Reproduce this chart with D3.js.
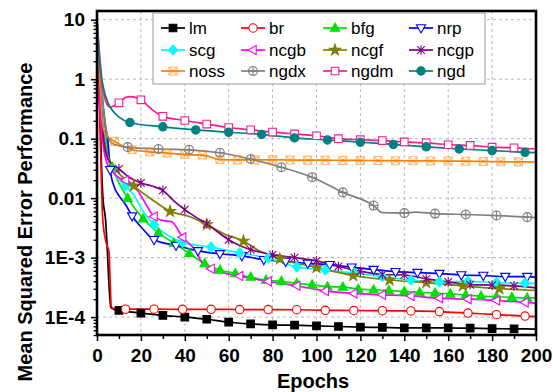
<!DOCTYPE html>
<html>
<head>
<meta charset="utf-8">
<script src="https://cdnjs.cloudflare.com/ajax/libs/d3/7.8.5/d3.min.js"></script>
<style>
body { margin: 0; background: #fff; }
text { font-family: "Liberation Sans", Arial, sans-serif; }
</style>
</head>
<body>
<div id="chart"></div>
<script>
// series names, in legend order
var names = ["lm", "br", "bfg", "nrp", "scg", "ncgb", "ncgf", "ncgp", "noss", "ngdx", "ngdm", "ngd"];

// [epoch, mse]
var lm = [[0,10],[1,1],[2,0.04],[2.7,0.01],[3.9,0.0043],[4.7,0.00135],[5.5,0.00033],[6.3,0.000145],[8,0.000135],
  [10,0.00013],[20,0.000117],[30,0.000107],[40,0.0001],[50,0.000092],[60,0.000082],[70,0.000077],[80,0.000074],
  [90,0.000073],[100,0.000071],[110,0.0000695],[120,0.000068],[130,0.000067],[140,0.000066],[150,0.000066],
  [160,0.000066],[170,0.000065],[180,0.000064],[190,0.0000635],[200,0.000063]];
var br = [[0,10],[1,0.6],[2,0.02],[2.6,0.0045],[4,0.0019],[5.5,0.0012],[6,0.0004],[6.5,0.00015],[8,0.000137],
  [13,0.000136],[26,0.000136],[39,0.000135],[52,0.000135],[65,0.000134],[78,0.000134],[91,0.000133],[104,0.00013],
  [117,0.000129],[130,0.000128],[143,0.000127],[156,0.000124],[169,0.000117],[182,0.00011],[195,0.000104],[200,0.000102]];
var bfg = [[0,9],[1,2],[2,0.6],[3,0.25],[4,0.12],[5,0.06],[7,0.033],[10,0.018],[14,0.01],[21,0.0045],[28,0.0026],
  [35,0.00176],[42,0.00118],[49,0.0008],[56,0.00062],[63,0.00054],[70,0.00047],[77,0.00042],[84,0.0004],[91,0.00037],
  [98,0.00035],[105,0.000325],[112,0.00032],[119,0.000296],[126,0.000288],[133,0.00028],[140,0.00027],[147,0.00026],
  [154,0.000254],[161,0.000245],[168,0.000235],[175,0.000225],[182,0.00022],[189,0.000215],[196,0.00021],[200,0.00021]];
var nrp = [[0,9],[1,2],[2,0.6],[3,0.3],[4,0.15],[5,0.09],[6,0.03],[8,0.015],[10,0.011],[13,0.0078],[16,0.005],
  [20,0.0033],[26,0.002],[36,0.0016],[46,0.0013],[56,0.00116],[66,0.00107],[76,0.00092],[86,0.00086],[96,0.0008],
  [106,0.00076],[116,0.00069],[126,0.00063],[136,0.00058],[146,0.00056],[156,0.00054],[166,0.00051],[176,0.0005],
  [186,0.00048],[196,0.00048],[200,0.00047]];
var scg = [[0,9],[1,2],[2,0.5],[3,0.15],[5,0.05],[7,0.03],[9,0.023],[13,0.016],[17,0.011],[21,0.006],[26,0.0036],
  [32,0.0024],[39,0.0018],[52,0.0015],[65,0.0012],[78,0.00098],[91,0.0007],[104,0.00062],[117,0.00055],[130,0.00048],
  [143,0.00042],[156,0.00039],[169,0.0004],[182,0.00038],[195,0.00037],[200,0.00037]];
var ncgb = [[0,6],[0.6,0.8],[1.5,0.25],[3,0.07],[5,0.035],[7,0.028],[10,0.022],[13,0.02],[17,0.016],[20,0.011],
  [26,0.0049],[30,0.0042],[34,0.004],[39,0.0022],[45,0.0013],[48,0.0008],[52,0.00065],[58,0.00055],[65,0.00049],
  [78,0.000398],[91,0.000336],[104,0.000275],[117,0.00025],[130,0.000237],[143,0.000227],[156,0.000208],
  [169,0.0002],[182,0.00019],[195,0.000176],[200,0.000172]];
var ncgf = [[0,9],[1,1.5],[2,0.3],[3,0.12],[5,0.05],[8,0.032],[16.7,0.0161],[25,0.0095],[33.3,0.006],[42,0.0049],
  [50,0.0036],[58,0.0025],[66.7,0.0019],[73,0.00136],[83.3,0.00095],[100,0.00068],[116.7,0.0005],[133.3,0.00042],
  [150,0.00038],[166.7,0.000335],[183.3,0.0003],[200,0.00028]];
var ncgp = [[0,9],[1,1],[2,0.3],[3,0.1],[5,0.045],[7,0.037],[10,0.031],[15,0.022],[20,0.018],[25,0.016],[30,0.0135],
  [35,0.009],[40,0.0064],[45,0.0048],[50,0.0037],[55,0.0027],[60,0.002],[65,0.0016],[70,0.00136],[80,0.00112],
  [90,0.001],[100,0.00088],[110,0.00071],[120,0.00059],[130,0.00052],[140,0.00051],[150,0.00044],[160,0.00039],
  [170,0.00035],[180,0.000345],[190,0.000335],[200,0.00031]];
var noss = [[0,11],[1,1.5],[2,0.3],[3,0.14],[5,0.105],[8,0.09],[16,0.065],[24,0.06],[32,0.057],[40,0.054],[48,0.053],
  [56,0.0445],[64,0.044],[72,0.044],[80,0.044],[88,0.0438],[96,0.0436],[104,0.0434],[112,0.0432],[120,0.043],
  [128,0.0428],[136,0.0426],[144,0.0424],[152,0.0422],[160,0.042],[168,0.0418],[176,0.0414],[184,0.041],
  [192,0.0407],[200,0.0405]];
var ngdx = [[0,10],[1,3],[2,1.2],[3,0.3],[4,0.15],[6,0.09],[8,0.08],[14,0.072],[28,0.067],[42,0.065],[56,0.058],
  [70,0.0455],[84,0.033],[98,0.0225],[112,0.0125],[126,0.0075],[130,0.0057],[140,0.0056],[145,0.0058],[154,0.0055],
  [168,0.0053],[182,0.0051],[196,0.0048],[200,0.0047]];
var ngdm = [[0,10],[1,3],[2,1],[3,0.6],[4,0.42],[6,0.34],[8,0.36],[10,0.4],[13,0.49],[15,0.51],[17,0.5],[20,0.45],
  [25,0.31],[30,0.237],[40,0.202],[50,0.176],[60,0.154],[70,0.141],[80,0.129],[90,0.12],[100,0.112],[110,0.1],
  [120,0.096],[130,0.093],[140,0.088],[150,0.085],[160,0.079],[170,0.077],[180,0.072],[190,0.07],[200,0.067]];
var ngd = [[0,8],[1,2.2],[3,0.7],[5,0.4],[7,0.3],[10,0.23],[15,0.187],[30,0.158],[45,0.14],[60,0.128],[75,0.118],
  [90,0.103],[105,0.095],[120,0.087],[135,0.08],[150,0.073],[165,0.067],[180,0.063],[195,0.059],[200,0.058]];

var yTicks = [10, 1, 0.1, 0.01, 1e-3, 1e-4];
var yTickLabels = ["10", "1", "0.1", "0.01", "1E-3", "1E-4"];
var xTicks = d3.range(0, 201, 20);

var data = {lm: lm, br: br, bfg: bfg, nrp: nrp, scg: scg, ncgb: ncgb, ncgf: ncgf, ncgp: ncgp,
            noss: noss, ngdx: ngdx, ngdm: ngdm, ngd: ngd};

// look of each series: colour, marker, marker spacing (first epoch, step)
var style = {
  lm:   {c: "#000000", m: "square",  fill: true,  mk: [10, 10]},
  br:   {c: "#ff0000", m: "circle",  fill: false, mk: [13, 13]},
  bfg:  {c: "#00e000", m: "triUp",   fill: true,  mk: [7, 7]},
  nrp:  {c: "#0000ff", m: "triDown", fill: false, mk: [6, 10]},
  scg:  {c: "#00ffff", m: "diamond", fill: true,  mk: [13, 13]},
  ncgb: {c: "#ff00ff", m: "triLeft", fill: false, mk: [13, 13]},
  ncgf: {c: "#808000", m: "star",    fill: true,  mk: [16.667, 16.667]},
  ncgp: {c: "#800080", m: "aster",   fill: false, mk: [10, 10]},
  noss: {c: "#ff8000", m: "sqx",     fill: false, mk: [8, 8], op: 0.55},
  ngdx: {c: "#808080", m: "cplus",   fill: false, mk: [14, 14]},
  ngdm: {c: "#ff1a8c", m: "square",  fill: false, mk: [10, 10]},
  ngd:  {c: "#008080", m: "circle",  fill: true,  mk: [15, 15]}
};

var width = 553, height = 392;
var x0 = 97, x1 = 536, y0 = 335, y1 = 11;

var svg = d3.select("#chart").append("svg")
    .attr("width", width)
    .attr("height", height);

var x = d3.scaleLinear().domain([0, 200]).range([x0, x1]);
var y = d3.scaleLog().domain([5e-5, 14]).range([y0, y1]);

svg.append("defs").append("clipPath").attr("id", "plotClip")
  .append("rect").attr("x", x0).attr("y", y1).attr("width", x1 - x0).attr("height", y0 - y1);

// grid
var grid = svg.append("g").attr("stroke", "#b8b8b8").attr("stroke-dasharray", "3,3").attr("stroke-width", 1);
grid.selectAll(".gx").data(xTicks.filter(function(d) { return d > 0 && d < 200; }))
  .enter().append("line")
  .attr("x1", function(d) { return x(d); }).attr("x2", function(d) { return x(d); })
  .attr("y1", y1).attr("y2", y0);
grid.selectAll(".gy").data(yTicks)
  .enter().append("line")
  .attr("x1", x0).attr("x2", x1)
  .attr("y1", function(d) { return y(d); }).attr("y2", function(d) { return y(d); });

// axes
var minorY = [];
[1e-5, 1e-4, 1e-3, 1e-2, 1e-1, 1].forEach(function(p) {
  for (var k = 2; k <= 9; k++) { var v = p * k; if (v >= 5e-5 && v <= 14) minorY.push(v); }
});
svg.append("g").attr("transform", "translate(" + x0 + ",0)")
  .call(d3.axisLeft(y).tickValues(minorY).tickSize(3.5).tickFormat(""))
  .call(function(g) { g.select(".domain").remove(); g.selectAll("line").attr("stroke-width", 1.3); });
svg.append("g").attr("transform", "translate(" + x0 + ",0)")
  .call(d3.axisLeft(y).tickValues(yTicks).tickSize(6).tickPadding(6)
    .tickFormat(function(d, i) { return yTickLabels[i]; }))
  .call(function(g) {
    g.select(".domain").remove();
    g.selectAll("line").attr("stroke-width", 1.5);
    g.selectAll("text").attr("font-size", 19).attr("font-weight", "bold").attr("fill", "#000")
      .attr("font-family", "'Liberation Sans', Arial, sans-serif");
  });
svg.append("g").attr("transform", "translate(0," + y0 + ")")
  .call(d3.axisBottom(x).tickValues(d3.range(10, 200, 20)).tickSize(4).tickFormat(""))
  .call(function(g) { g.select(".domain").remove(); g.selectAll("line").attr("stroke-width", 1.5); });
svg.append("g").attr("transform", "translate(0," + y0 + ")")
  .call(d3.axisBottom(x).tickValues(xTicks).tickSize(6).tickPadding(8))
  .call(function(g) {
    g.select(".domain").remove();
    g.selectAll("line").attr("stroke-width", 1.5);
    g.selectAll("text").attr("font-size", 19).attr("font-weight", "bold").attr("fill", "#000")
      .attr("font-family", "'Liberation Sans', Arial, sans-serif");
  });

// marker shapes
function markerPath(m) {
  switch (m) {
    case "square":  return "M-3.8,-3.8H3.8V3.8H-3.8Z";
    case "circle":  return d3.symbol(d3.symbolCircle, 55)();
    case "triUp":   return "M0,-5L4.6,3.2H-4.6Z";
    case "triDown": return "M0,5L4.6,-3.2H-4.6Z";
    case "triLeft": return "M-5,0L3.2,-4.6V4.6Z";
    case "diamond": return "M0,-5L4.5,0L0,5L-4.5,0Z";
    case "star":    return d3.symbol(d3.symbolStar, 38)();
    case "aster":   return "M-3.8,-3.8L3.8,3.8M3.8,-3.8L-3.8,3.8M0,-4.8V4.8";
    case "sqx":     return "M-4,-4H4V4H-4Z M-4,-4L4,4M4,-4L-4,4";
    case "cplus":   return "M-4.5,0A4.5,4.5 0 1,0 4.5,0A4.5,4.5 0 1,0 -4.5,0M-4.5,0H4.5M0,-4.5V4.5";
  }
}
function drawMarker(g, s, px, py) {
  g.append("path").attr("d", markerPath(s.m))
    .attr("transform", "translate(" + px + "," + py + ")")
    .attr("fill", s.fill ? s.c : (s.m === "aster" || s.m === "cplus" || s.m === "sqx" ? "none" : "#fff"))
    .attr("stroke", s.c).attr("stroke-width", 1.1)
    .attr("opacity", s.op || 1);
}

var line = d3.line()
    .x(function(d) { return x(d[0]); })
    .y(function(d) { return y(d[1]); })
    .curve(d3.curveMonotoneX);

var plot = svg.append("g").attr("clip-path", "url(#plotClip)");
names.forEach(function(n) {
  var s = style[n];
  plot.append("path").datum(data[n])
    .attr("d", line)
    .attr("fill", "none")
    .attr("stroke", s.c)
    .attr("stroke-width", 1.7);
});
var marks = svg.append("g");
names.forEach(function(n) {
  var s = style[n];
  data[n].forEach(function(d) {
    var k = (d[0] - s.mk[0]) / s.mk[1];
    if (d[0] >= s.mk[0] - 0.01 && d[0] < 199 && Math.abs(k - Math.round(k)) < 0.02) {
      drawMarker(marks, s, x(d[0]), y(d[1]));
    }
  });
});

// frame
svg.append("rect").attr("x", x0).attr("y", y1).attr("width", x1 - x0).attr("height", y0 - y1)
  .attr("fill", "none").attr("stroke", "#000").attr("stroke-width", 2.6);

// legend
var leg = svg.append("g");
leg.append("rect").attr("x", 153).attr("y", 13).attr("width", 332).attr("height", 71)
  .attr("fill", "#fff").attr("stroke", "#999").attr("stroke-width", 1);
var colX = [161, 241, 323, 409], rowY = [28, 50, 71];
names.forEach(function(n, i) {
  var s = style[n];
  var lx = colX[i % 4], ly = rowY[Math.floor(i / 4)];
  leg.append("line").attr("x1", lx).attr("x2", lx + 24).attr("y1", ly).attr("y2", ly)
    .attr("stroke", s.c).attr("stroke-width", 1.7);
  drawMarker(leg, s, lx + 12, ly);
  leg.append("text").attr("x", lx + 28).attr("y", ly + 6).attr("font-size", 17).text(n);
});

// axis titles
svg.append("text").attr("x", 313).attr("y", 388).attr("text-anchor", "middle")
  .attr("font-size", 20).attr("font-weight", "bold").text("Epochs");
svg.append("text").attr("transform", "translate(32,222) rotate(-90)").attr("text-anchor", "middle")
  .attr("font-size", 20).attr("font-weight", "bold").text("Mean Squared Error Performance");
</script>
</body>
</html>
